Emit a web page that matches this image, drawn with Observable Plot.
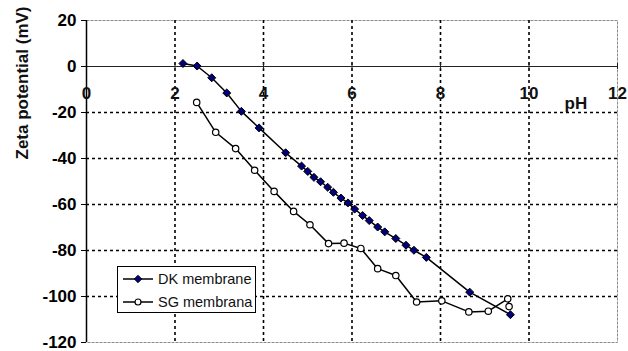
<!DOCTYPE html>
<html>
<head>
<meta charset="utf-8">
<script src="https://cdn.jsdelivr.net/npm/d3@7"></script>
<script src="https://cdn.jsdelivr.net/npm/@observablehq/plot@0.6"></script>
<style>
  html, body { margin: 0; padding: 0; background: #fff; }
  #wrap { position: relative; width: 628px; height: 351px; font-family: "Liberation Sans", Arial, sans-serif; }
  #legend { position: absolute; left: 117px; top: 266px; width: 139px; height: 47px; box-sizing: border-box;
            border: 1px solid #000; background: #fff; font-size: 14.5px; color: #111; }
  .row { position: absolute; left: 4px; height: 18px; display: flex; align-items: center; }
  .row svg { display: block; margin-right: 4px; }
</style>
</head>
<body>
<div id="wrap">
  <div id="chart"></div>
  <div id="legend">
    <div class="row" style="top:3px">
      <svg width="32" height="12"><line x1="1" y1="6" x2="31" y2="6" stroke="#000" stroke-width="1.5"/>
        <path d="M16,2.3L19.7,6L16,9.7L12.3,6Z" fill="#00007a" stroke="#000" stroke-width="1"/></svg>
      <span>DK membrane</span>
    </div>
    <div class="row" style="top:26px">
      <svg width="32" height="12"><line x1="1" y1="6" x2="31" y2="6" stroke="#000" stroke-width="1.5"/>
        <circle cx="16" cy="6" r="3" fill="#fff" stroke="#000" stroke-width="1.2"/></svg>
      <span>SG membrana</span>
    </div>
  </div>
</div>
<script>
// DK membrane
const dkPH   = [2.18, 2.50, 2.83, 3.17, 3.50, 3.90, 4.50, 4.86, 5.00, 5.14, 5.29, 5.45, 5.58, 5.75, 5.91, 6.06, 6.24, 6.39, 6.58, 6.74, 6.99, 7.22, 7.40, 7.68, 8.66, 9.58];
const dkZeta = [1.3, 0.2, -4.9, -11.5, -19.5, -26.7, -37.5, -43.3, -45.6, -48.2, -50.1, -52.5, -54.7, -57.2, -59.3, -62.0, -64.8, -67.0, -69.8, -71.9, -74.8, -77.7, -79.9, -83.0, -98.1, -107.9];
// SG membrana
const sgPH   = [2.49, 2.92, 3.37, 3.80, 4.24, 4.68, 5.05, 5.47, 5.82, 6.20, 6.58, 6.99, 7.46, 8.03, 8.64, 9.08, 9.52, 9.55];
const sgZeta = [-15.6, -28.6, -35.7, -45.1, -54.3, -63.0, -68.8, -77.0, -76.8, -79.1, -87.9, -90.9, -102.4, -101.9, -106.7, -106.4, -101.0, -104.4];

const xTicks = [0, 2, 4, 6, 8, 10, 12];
const xGrid = [2, 4, 6, 8, 10];
const yTicks = [20, 0, -20, -40, -60, -80, -100, -120];
const yGrid = [-20, -40, -60, -80, -100];
const yTitle = "Zeta potential (mV)";
const xTitle = "pH";
const xTitlePos = {x: 11.06, y: -16};

const dk = dkPH.map((x, i) => ({x, y: dkZeta[i]}));
const sg = sgPH.map((x, i) => ({x, y: sgZeta[i]}));

const font = "Liberation Sans, Arial, sans-serif";

const chart = Plot.plot({
  width: 628,
  height: 351,
  marginLeft: 86,
  marginRight: 11,
  marginTop: 20,
  marginBottom: 9,
  style: {fontFamily: font, background: "#fff", color: "#000"},
  x: {domain: [0, 12], axis: null},
  y: {domain: [-120, 20], axis: null},
  marks: [
    Plot.frame({stroke: "#8a8a8a", strokeWidth: 1, strokeDasharray: "3,1"}),
    Plot.gridX(xGrid, {stroke: "#000", strokeOpacity: 1, strokeWidth: 1.6, strokeDasharray: "3,3"}),
    Plot.gridY(yGrid, {stroke: "#000", strokeOpacity: 1, strokeWidth: 1.6, strokeDasharray: "3,3"}),
    Plot.ruleY([0], {stroke: "#222", strokeWidth: 1}),
    Plot.ruleX(xTicks.slice(1), {x: d => d, y1: 0, y2: 0, insetTop: -3, insetBottom: -3, stroke: "#222", strokeWidth: 1}),
    Plot.ruleX([0], {stroke: "#000", strokeWidth: 1.5}),
    Plot.axisY(yTicks, {tickSize: 5, tickPadding: 5, fontSize: 17, fontWeight: "bold", label: null, stroke: "#000", tickFormat: d => String(d)}),
    Plot.text(xTicks, {x: d => d, y: 0, dy: 27, text: d => String(d), fontSize: 17, fontWeight: "bold", textAnchor: "middle", fill: "#111"}),
    Plot.text([xTitle], {x: xTitlePos.x, y: xTitlePos.y, text: d => d, fontSize: 17, fontWeight: "bold", fill: "#111"}),
    Plot.text([yTitle], {frameAnchor: "left", text: d => d, rotate: -90, dx: -64, dy: -22, fontSize: 17, fontWeight: "bold", fill: "#111"}),
    Plot.line(sg, {x: "x", y: "y", stroke: "#000", strokeWidth: 1.5}),
    Plot.line(dk, {x: "x", y: "y", stroke: "#000", strokeWidth: 1.5}),
    Plot.dot(sg, {x: "x", y: "y", r: 3.2, fill: "#fff", stroke: "#000", strokeWidth: 1.2}),
    Plot.dot(dk, {x: "x", y: "y", symbol: "diamond2", r: 3.6, fill: "#00007a", stroke: "#000", strokeWidth: 1})
  ]
});
document.getElementById("chart").appendChild(chart);
</script>
</body>
</html>
